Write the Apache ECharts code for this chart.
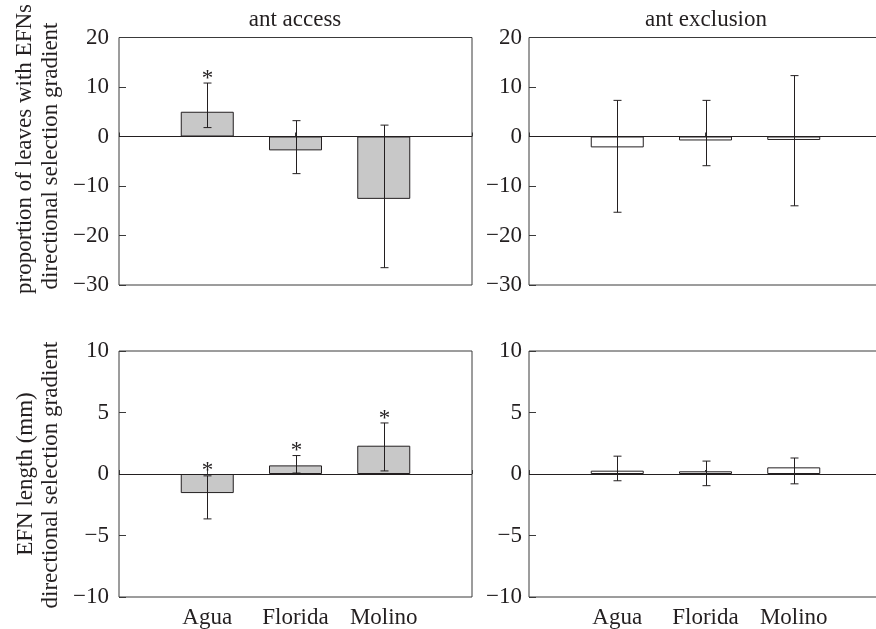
<!DOCTYPE html>
<html style='height: 100%'>
<head>
    <meta charset='utf-8'>
</head>
<body style='height: 100%; margin: 0; background: #fff'>
    <div id='container' style='width: 876px; height: 629px'></div>
    <script type='text/javascript' src='https://cdn.jsdelivr.net/npm/echarts@6/dist/echarts.min.js'></script>
    <script type="text/javascript">

// sites along the x axis
var sites = ['Agua', 'Florida', 'Molino'];

// top row: proportion of leaves with EFNs
var leavesAccess = [5.0, -2.8, -12.6];
var leavesAccessLow = [1.8, -7.5, -26.5];
var leavesAccessHigh = [10.8, 3.2, 2.3];
var leavesAccessSig = [1, 0, 0];

var leavesExcl = [-2.2, -0.8, -0.7];
var leavesExclLow = [-15.3, -5.9, -14.0];
var leavesExclHigh = [7.3, 7.3, 12.3];
var leavesExclSig = [0, 0, 0];

// bottom row: EFN length (mm)
var lengthAccess = [-1.55, 0.7, 2.3];
var lengthAccessLow = [-3.65, 0.08, 0.25];
var lengthAccessHigh = [-0.15, 1.5, 4.15];
var lengthAccessSig = [1, 1, 1];

var lengthExcl = [0.27, 0.22, 0.54];
var lengthExclLow = [-0.55, -0.95, -0.8];
var lengthExclHigh = [1.45, 1.05, 1.3];
var lengthExclSig = [0, 0, 0];

var FONT = 'Liberation Serif';
var FS = 23;
var INK = '#231f20';

var dom = document.getElementById("container");
var myChart = echarts.init(dom);

function minus(v) {
    return String(v).replace('-', '\u2212');
}

function renderErr(params, api) {
    var x = api.value(0);
    var hi = api.coord([x, api.value(2)]);
    var lo = api.coord([x, api.value(1)]);
    var cx = Math.round(hi[0]) + 0.5;
    var cap = 4;
    var st = { stroke: INK, lineWidth: 1 };
    var kids = [
        { type: 'line', shape: { x1: cx, y1: hi[1], x2: cx, y2: lo[1] }, style: st },
        { type: 'line', shape: { x1: cx - cap, y1: hi[1], x2: cx + cap, y2: hi[1] }, style: st },
        { type: 'line', shape: { x1: cx - cap, y1: lo[1], x2: cx + cap, y2: lo[1] }, style: st }
    ];
    if (api.value(3)) {
        kids.push({
            type: 'text', x: cx, y: hi[1] + 7,
            style: { text: '*', font: FS + 'px ' + FONT, fill: INK, align: 'center', verticalAlign: 'bottom' }
        });
    }
    return { type: 'group', children: kids };
}

function panelSeries(idx, vals, low, high, sig, fill) {
    var bars = [], errs = [];
    for (var i = 0; i < sites.length; i++) {
        bars.push([i + 1, vals[i]]);
        errs.push([i + 1, low[i], high[i], sig[i]]);
    }
    return [{
        type: 'bar',
        xAxisIndex: idx, yAxisIndex: idx,
        data: bars,
        barWidth: 53,
        itemStyle: { color: fill, borderColor: INK, borderWidth: 1 },
        markLine: {
            silent: true, symbol: 'none',
            label: { show: false },
            lineStyle: { color: INK, width: 1, type: 'solid' },
            data: [{ yAxis: 0 }]
        }
    }, {
        type: 'custom',
        xAxisIndex: idx, yAxisIndex: idx,
        renderItem: renderErr,
        encode: { x: 0, y: [1, 2] },
        data: errs,
        z: 5
    }];
}

var grids = [
    { left: 119, top: 37.5, width: 353, height: 247.5 },
    { left: 529, top: 37.5, width: 353, height: 247.5 },
    { left: 119, top: 351, width: 353, height: 246 },
    { left: 529, top: 351, width: 353, height: 246 }
];

var xAxes = [], yAxes = [];
for (var g = 0; g < 4; g++) {
    grids[g].show = true;
    grids[g].borderColor = '#3a3a3a';
    grids[g].borderWidth = 1;
    grids[g].backgroundColor = 'transparent';
    grids[g].outerBoundsMode = 'none';
    grids[g].containLabel = false;
    xAxes.push({
        type: 'value', gridIndex: g, min: 0, max: 4, interval: 1,
        axisLine: { show: false },
        axisTick: { show: true, inside: true, length: 4, lineStyle: { color: '#3a3a3a' } },
        splitLine: { show: false },
        axisLabel: {
            show: g >= 2, margin: 9, fontFamily: FONT, fontSize: FS, color: INK,
            formatter: function (v) { return sites[v - 1] || ''; }
        }
    });
    var upperRow = g < 2;
    yAxes.push({
        type: 'value', gridIndex: g,
        min: upperRow ? -30 : -10, max: upperRow ? 20 : 10, interval: upperRow ? 10 : 5,
        axisLine: { show: false },
        axisTick: { show: true, inside: true, length: 7, lineStyle: { color: '#3a3a3a' } },
        splitLine: { show: false },
        axisLabel: { margin: g % 2 === 0 ? 10 : 7, fontFamily: FONT, fontSize: FS, color: INK, formatter: minus }
    });
}

var series = []
    .concat(panelSeries(0, leavesAccess, leavesAccessLow, leavesAccessHigh, leavesAccessSig, '#c8c8c8'))
    .concat(panelSeries(1, leavesExcl, leavesExclLow, leavesExclHigh, leavesExclSig, '#ffffff'))
    .concat(panelSeries(2, lengthAccess, lengthAccessLow, lengthAccessHigh, lengthAccessSig, '#c8c8c8'))
    .concat(panelSeries(3, lengthExcl, lengthExclLow, lengthExclHigh, lengthExclSig, '#ffffff'));

// rotated axis titles, centred on the given point
function vText(text, x, y) {
    return {
        type: 'text', x: x, y: y, rotation: Math.PI / 2,
        style: { text: text, font: FS + 'px ' + FONT, fill: INK, align: 'center', verticalAlign: 'middle' }
    };
}

option = {
    animation: false,
    backgroundColor: '#fff',
    title: [
        { text: 'ant access', left: 295, top: 8, textAlign: 'center', padding: 0,
          textStyle: { fontFamily: FONT, fontSize: FS, fontWeight: 'normal', color: INK } },
        { text: 'ant exclusion', left: 706, top: 8, textAlign: 'center', padding: 0,
          textStyle: { fontFamily: FONT, fontSize: FS, fontWeight: 'normal', color: INK } }
    ],
    grid: grids,
    xAxis: xAxes,
    yAxis: yAxes,
    graphic: [
        vText('proportion of leaves with EFNs', 25, 149),
        vText('directional selection gradient', 51, 156),
        vText('EFN length (mm)', 26, 474),
        vText('directional selection gradient', 51, 475)
    ],
    series: series
};

if (option && typeof option === "object") {
    myChart.setOption(option, true);
}
       </script>
   </body>
</html>
